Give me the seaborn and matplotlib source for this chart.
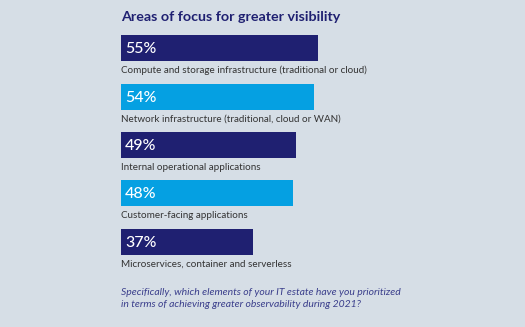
import matplotlib
matplotlib.use("Agg")
import matplotlib.pyplot as plt
import seaborn as sns
import pandas as pd

categories = [
    "Compute and storage infrastructure (traditional or cloud)",
    "Network infrastructure (traditional, cloud or WAN)",
    "Internal operational applications",
    "Customer-facing applications",
    "Microservices, container and serverless",
]
values = [55, 54, 49, 48, 37]
bar_colors = ["#1f2071", "#05a0e2", "#1f2071", "#05a0e2", "#1f2071"]
title = "Areas of focus for greater visibility"
footer = ("Specifically, which elements of your IT estate have you prioritized\n"
          "in terms of achieving greater observability during 2021?")

bg = "#d6dee6"
sns.set_theme(style="white")
plt.rcParams['font.family'] = ['Lato', 'DejaVu Sans']

W, H = 525, 327
fig = plt.figure(figsize=(W / 100, H / 100), dpi=100, facecolor=bg)
ax = fig.add_axes([121 / W, 1 - 266 / H, 358 / W, 242 / H])
ax.set_facecolor(bg)

df = pd.DataFrame({"cat": categories, "val": values})
sns.barplot(data=df, x="val", y="cat", hue="cat", palette=bar_colors,
            legend=False, ax=ax, width=0.54, saturation=1, linewidth=0)
ax.set_xlim(0, 100)
ax.set_ylim(4.5, -0.5)
for s in ax.spines.values():
    s.set_visible(False)
ax.set_xticks([])
ax.set_yticks([])
ax.set_xlabel("")
ax.set_ylabel("")

for i, (c, v) in enumerate(zip(categories, values)):
    ax.text(1.1, i + 0.02, f"{v}%", color="white", fontsize=11.5, va="center",
            ha="left", fontweight="medium")
    ax.text(0, i + 0.46, c, color="#333333", fontsize=7.1, va="center", ha="left")

fig.text(121 / W, 1 - 17 / H, title, color="#1f2071", fontsize=10.3,
         fontweight="bold", va="center", ha="left")
fig.text(121 / W, 1 - 298.5 / H, footer, color="#3b3f8c", fontsize=7.5,
         style="italic", va="center", ha="left", linespacing=1.45)

fig.savefig("out.png", dpi=100, facecolor=bg)
